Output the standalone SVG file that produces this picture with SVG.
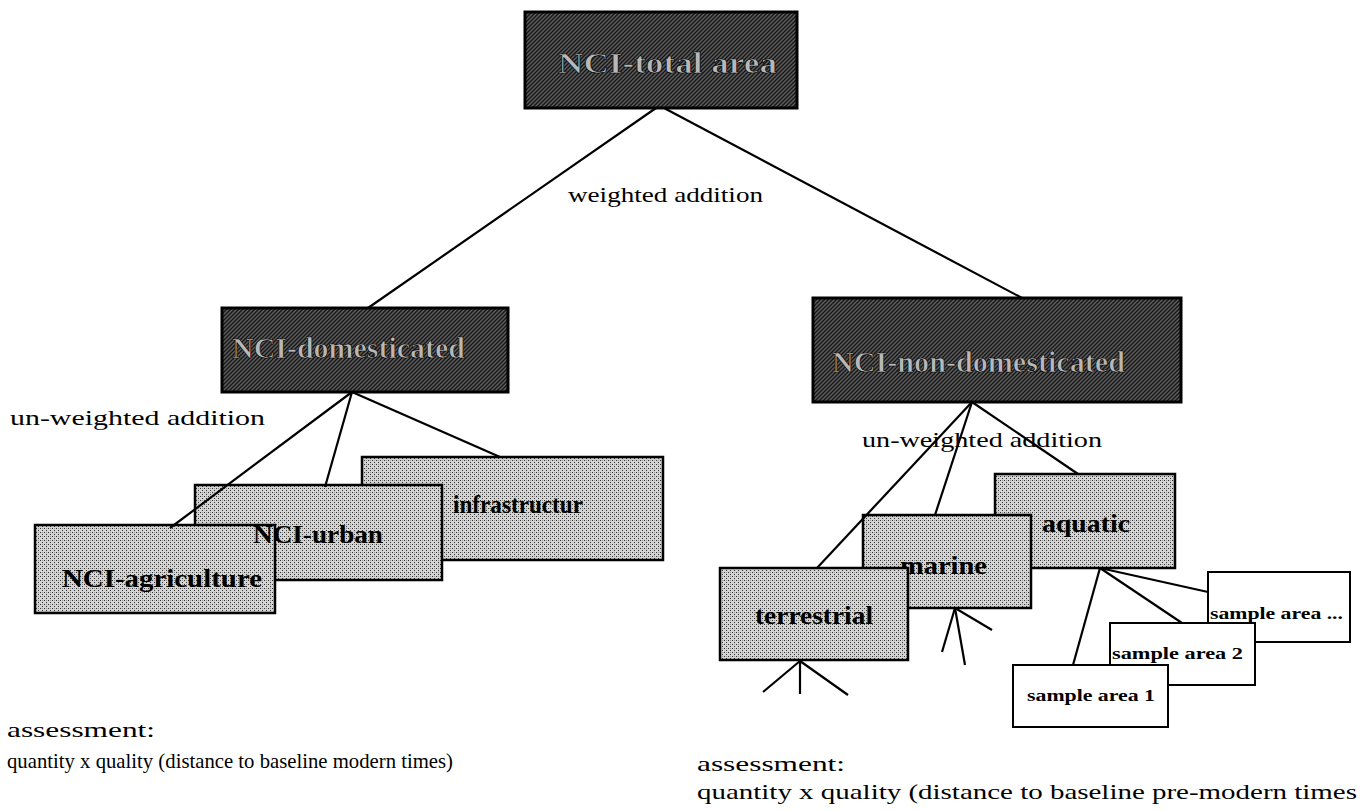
<svg xmlns="http://www.w3.org/2000/svg" width="1363" height="811" viewBox="0 0 1363 811">
<defs>
<pattern id="lt" width="4" height="4" patternUnits="userSpaceOnUse"><rect width="4" height="4" fill="#d4d4d4"/><rect width="1" height="1" fill="#333"/><rect x="2" y="2" width="1" height="1" fill="#333"/><rect x="2" y="0" width="1" height="1" fill="#999"/></pattern>
<pattern id="dk" width="4" height="4" patternUnits="userSpaceOnUse"><rect width="4" height="4" fill="#5e5e5e"/><path d="M-1 1 L1 -1 M0 4 L4 0 M3 5 L5 3" stroke="#151515" stroke-width="1.4"/></pattern>
<style>
.dbox{fill:url(#dk);stroke:#000;stroke-width:3}
.lbox{fill:url(#lt);stroke:#000;stroke-width:2.5}
.wbox{fill:#fff;stroke:#000;stroke-width:2}
.dtx{font-family:"Liberation Serif",serif;font-size:30px;font-weight:bold;fill:#b8b8b8;stroke:#000;stroke-width:0.7}
.ltx{font-family:"Liberation Serif",serif;font-size:25px;font-weight:bold;fill:#000}
.stx{font-family:"Liberation Serif",serif;font-size:17px;font-weight:bold;fill:#000}
.lab{font-family:"Liberation Serif",serif;font-size:21px;fill:#000}
.conn line{stroke:#000;stroke-width:2.2;fill:none}
</style>
</defs>
<rect width="1363" height="811" fill="#fff"/>

<g id="node-total"><rect class="dbox" x="525" y="12" width="272" height="96"/><text class="dtx" x="558" y="73" textLength="219" lengthAdjust="spacingAndGlyphs">NCI-total area</text></g>
<g id="node-domesticated"><rect class="dbox" x="222" y="308" width="286" height="84"/><text class="dtx" x="232" y="358" textLength="233" lengthAdjust="spacingAndGlyphs">NCI-domesticated</text></g>
<g id="node-nondomesticated"><rect class="dbox" x="813" y="298" width="368" height="104"/><text class="dtx" x="832" y="372" textLength="293" lengthAdjust="spacingAndGlyphs">NCI-non-domesticated</text></g>

<g id="node-infrastructur"><rect class="lbox" x="362" y="457" width="301" height="103"/><text class="ltx" x="453" y="513" textLength="130" lengthAdjust="spacingAndGlyphs">infrastructur</text></g>
<g id="node-urban"><rect class="lbox" x="195" y="485" width="247" height="95"/></g>
<g id="node-agriculture"><rect class="lbox" x="35" y="525" width="240" height="88"/><text class="ltx" x="62" y="587" textLength="200" lengthAdjust="spacingAndGlyphs">NCI-agriculture</text></g>
<g id="node-urban-label"><text class="ltx" x="253" y="543" textLength="130" lengthAdjust="spacingAndGlyphs">NCI-urban</text></g>

<g id="node-aquatic"><rect class="lbox" x="995" y="474" width="180" height="94"/><text class="ltx" x="1042" y="532" textLength="88" lengthAdjust="spacingAndGlyphs">aquatic</text></g>
<g id="node-marine"><rect class="lbox" x="863" y="515" width="168" height="93"/><text class="ltx" x="900" y="574" textLength="87" lengthAdjust="spacingAndGlyphs">marine</text></g>
<g id="node-terrestrial"><rect class="lbox" x="720" y="568" width="188" height="92"/><text class="ltx" x="755" y="624" textLength="118" lengthAdjust="spacingAndGlyphs">terrestrial</text></g>

<g id="node-sample-more"><rect class="wbox" x="1208" y="572" width="142" height="70"/><text class="stx" x="1210" y="619" textLength="133" lengthAdjust="spacingAndGlyphs">sample area ...</text></g>
<g id="node-sample-2"><rect class="wbox" x="1110" y="623" width="145" height="62"/><text class="stx" x="1112" y="659" textLength="131" lengthAdjust="spacingAndGlyphs">sample area 2</text></g>
<g id="node-sample-1"><rect class="wbox" x="1013" y="665" width="155" height="62"/><text class="stx" x="1027" y="701" textLength="128" lengthAdjust="spacingAndGlyphs">sample area 1</text></g>

<g id="connectors" class="conn">
<line x1="656" y1="108" x2="368" y2="308"/>
<line x1="664" y1="108" x2="1022" y2="298"/>
<line x1="352" y1="392" x2="170" y2="528"/>
<line x1="352" y1="392" x2="325" y2="487"/>
<line x1="352" y1="392" x2="500" y2="457"/>
<line x1="972" y1="402" x2="817" y2="568"/>
<line x1="972" y1="402" x2="935" y2="515"/>
<line x1="972" y1="402" x2="1078" y2="474"/>
<line x1="1100" y1="568" x2="1073" y2="665"/>
<line x1="1100" y1="568" x2="1182" y2="623"/>
<line x1="1100" y1="568" x2="1208" y2="592"/>
<line x1="800" y1="661" x2="763" y2="692"/>
<line x1="800" y1="661" x2="800" y2="694"/>
<line x1="800" y1="661" x2="848" y2="695"/>
<line x1="955" y1="608" x2="942" y2="652"/>
<line x1="955" y1="608" x2="965" y2="665"/>
<line x1="955" y1="608" x2="992" y2="630"/>
</g>

<g id="labels">
<text class="lab" x="568" y="202" textLength="195" lengthAdjust="spacingAndGlyphs">weighted addition</text>
<text class="lab" x="10" y="425" textLength="255" lengthAdjust="spacingAndGlyphs">un-weighted addition</text>
<text class="lab" x="862" y="447" textLength="240" lengthAdjust="spacingAndGlyphs">un-weighted addition</text>
<text class="lab" x="7" y="737" font-size="19" textLength="148" lengthAdjust="spacingAndGlyphs">assessment:</text>
<text class="lab" x="7" y="768" font-size="19" textLength="446" lengthAdjust="spacingAndGlyphs">quantity  x quality (distance to baseline modern times)</text>
<text class="lab" x="697" y="771" font-size="19" textLength="148" lengthAdjust="spacingAndGlyphs">assessment:</text>
<text class="lab" x="697" y="799" font-size="19" textLength="660" lengthAdjust="spacingAndGlyphs">quantity  x quality (distance to baseline pre-modern times</text>
</g>
</svg>
